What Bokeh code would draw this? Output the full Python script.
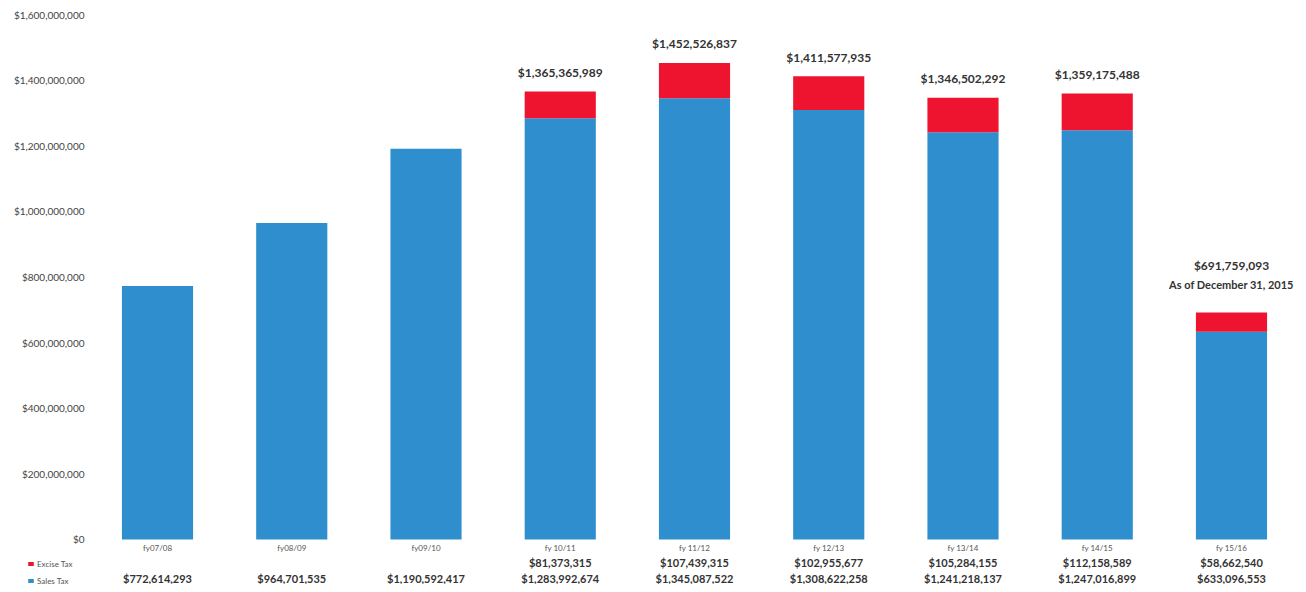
from bokeh.plotting import figure
from bokeh.models import ColumnDataSource, Range1d, FixedTicker, NumeralTickFormatter, Legend, LegendItem
from bokeh.core.properties import value
from bokeh.embed import file_html
from bokeh.resources import INLINE

fiscal_years = ["fy07/08", "fy08/09", "fy09/10", "fy 10/11", "fy 11/12", "fy 12/13", "fy 13/14", "fy 14/15", "fy 15/16"]
sales_tax = [772614293, 964701535, 1190592417, 1283992674, 1345087522, 1308622258, 1241218137, 1247016899, 633096553]
excise_tax = [0, 0, 0, 81373315, 107439315, 102955677, 105284155, 112158589, 58662540]
y_ticks = [0, 200000000, 400000000, 600000000, 800000000, 1000000000, 1200000000, 1400000000, 1600000000]
last_note = "As of December 31, 2015"

BLUE = "#2F8FCE"
RED = "#EE1430"
FONT = "Lato"

n = len(fiscal_years)
xs = list(range(n))
totals = [s + e for s, e in zip(sales_tax, excise_tax)]
# last bar's total is drawn with its note above it
total_labels = [f"${t:,}" if (e > 0 and i < n - 1) else "" for i, (t, e) in enumerate(zip(totals, excise_tax))]
excise_labels = [f"${e:,}" if e > 0 else "" for e in excise_tax]
sales_labels = [f"${s:,}" for s in sales_tax]

src = ColumnDataSource(dict(x=xs, sales=sales_tax, excise=excise_tax, total=totals,
                            fy=fiscal_years, tl=total_labels, el=excise_labels, sl=sales_labels,
                            zero=[0] * n,
                            fy_y=[-27e6] * n, el_y=[-71e6] * n, sl_y=[-120e6] * n))

p = figure(width=1298, height=584, output_backend="svg", toolbar_location=None,
           x_range=Range1d(-1.1695, 8.4992), y_range=Range1d(-137.4e6, 1.6e9),
           min_border_left=0, min_border_right=0, min_border_top=14, min_border_bottom=0)
p.outline_line_color = None
p.grid.visible = False
p.xaxis.visible = False
p.yaxis.ticker = FixedTicker(ticks=y_ticks)
p.yaxis.formatter = NumeralTickFormatter(format="$0,0")
p.yaxis.axis_line_color = None
p.yaxis.major_tick_line_color = None
p.yaxis.minor_tick_line_color = None
p.yaxis.major_tick_out = 0
p.yaxis.major_tick_in = 0
p.yaxis.major_label_text_font = FONT
p.yaxis.major_label_text_font_size = "10px"
p.yaxis.major_label_text_color = "#444444"
p.yaxis.major_label_standoff = -84

r_sales = p.vbar(x="x", bottom="zero", top="sales", width=0.53, source=src, fill_color=BLUE, line_color=None)
r_exc = p.vbar(x="x", bottom="sales", top="total", width=0.53, source=src, fill_color=RED, line_color=None)

# totals above bars
p.text(x="x", y="total", text="tl", source=src, text_align="center", text_baseline="middle",
       y_offset=-19, text_font=value(FONT), text_font_size="12px", text_font_style="bold",
       text_color="#333333")
p.text(x=[xs[-1]], y=[totals[-1]], text=[f"${totals[-1]:,}"], text_align="center", text_baseline="middle",
       y_offset=-47, text_font=value(FONT), text_font_size="12px", text_font_style="bold",
       text_color="#333333")
p.text(x=[xs[-1]], y=[totals[-1]], text=[last_note], text_align="center", text_baseline="middle",
       y_offset=-28, text_font=value(FONT), text_font_size="11px", text_font_style="bold",
       text_color="#333333")

# bottom rows
p.text(x="x", y="fy_y", text="fy", source=src, text_align="center", text_baseline="middle",
       text_font=value(FONT), text_font_size="8px", text_color="#555555")
p.text(x="x", y="el_y", text="el", source=src, text_align="center", text_baseline="middle",
       text_font=value(FONT), text_font_size="11px", text_font_style="bold", text_color="#333333")
p.text(x="x", y="sl_y", text="sl", source=src, text_align="center", text_baseline="middle",
       text_font=value(FONT), text_font_size="11px", text_font_style="bold", text_color="#333333")

legend = Legend(items=[LegendItem(label="Excise Tax", renderers=[r_exc]),
                       LegendItem(label="Sales Tax", renderers=[r_sales])],
                location=(27, -2), background_fill_alpha=0, border_line_color=None,
                label_text_font=FONT, label_text_font_size="8px", label_text_color="#555555",
                glyph_width=7, glyph_height=5, label_height=11, spacing=6, padding=1,
                label_standoff=3, margin=0)
p.add_layout(legend, "center")

open("out.html", "w").write(file_html(p, INLINE))
